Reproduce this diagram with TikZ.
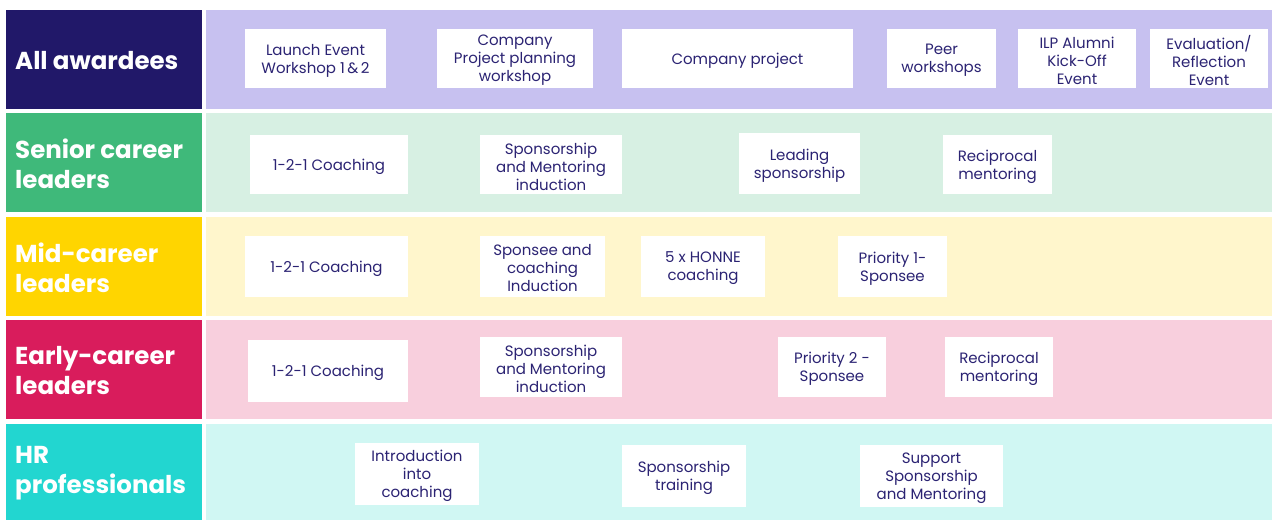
\documentclass[tikz,border=0pt]{standalone}
\usepackage{fontspec}
\setmainfont{Poppins}
\definecolor{navy}{HTML}{211869}
\definecolor{boxtext}{HTML}{2B2373}
\definecolor{lav}{HTML}{C7C1F0}
\definecolor{sgreen}{HTML}{3FB97A}
\definecolor{sgreenbg}{HTML}{D7F0E3}
\definecolor{myel}{HTML}{FFD500}
\definecolor{myelbg}{HTML}{FFF6CC}
\definecolor{ered}{HTML}{D91C5C}
\definecolor{eredbg}{HTML}{F8CFDD}
\definecolor{hrt}{HTML}{22D6D0}
\definecolor{hrtbg}{HTML}{D0F7F3}
\tikzset{
  wbox/.style={fill=white, draw=none, inner sep=0pt},
  wtext/.style={inner sep=0pt, align=center, text=boxtext,
    font=\fontsize{15}{18}\selectfont},
  lbl/.style={anchor=west, inner sep=0pt, align=left, text=white,
    font=\fontsize{24.5}{30}\selectfont\bfseries},
}
\newcommand\wb[6]{\node[wbox, minimum width={(#4-#2)*1pt}, minimum height={(#5-#3)*1pt}]
  (#1) at ({(#2+#4)/2},{(#3+#5)/2}) {};
  \node[wtext] (#1t) at ([yshift=-2pt]#1.center) {#6};}
\newcommand\band[6]{%
  \fill[#4] (6,#2) rectangle (202,#3);
  \fill[#5] (206,#2) rectangle (1272,#3);
  \node[lbl] (#1) at (15,{(#2+#3)/2+1}) {#6};}
\begin{document}
\begin{tikzpicture}[x=1pt,y=-1pt]
\useasboundingbox (0,0) rectangle (1272,520);
\fill[white] (0,0) rectangle (1272,520);
\band{la}{10}{109}{navy}{lav}{All awardees}
\band{lb}{113}{212}{sgreen}{sgreenbg}{Senior career\\leaders}
\band{lc}{217}{316}{myel}{myelbg}{Mid-career\\leaders}
\band{ld}{320}{419}{ered}{eredbg}{Early-career\\leaders}
\band{le}{424}{520}{hrt}{hrtbg}{HR\\professionals}
% row 1
\wb{a1}{245}{29}{386}{88}{Launch Event\\Workshop 1\,\&\,2}
\wb{a2}{437}{29}{593}{88}{Company\\Project planning\\workshop}
\wb{a3}{622}{29}{853}{88}{Company project}
\wb{a4}{887}{29}{996}{88}{Peer\\workshops}
\wb{a5}{1018}{29}{1136}{88}{ILP Alumni\\Kick-Off\\Event}
\wb{a6}{1150}{29}{1268}{88}{Evaluation/\\Reflection\\Event}
% row 2
\wb{b1}{250}{135}{408}{194}{1-2-1 Coaching}
\wb{b2}{480}{135}{622}{194}{Sponsorship\\and Mentoring\\induction}
\wb{b3}{739}{133}{860}{194}{Leading\\sponsorship}
\wb{b4}{943}{135}{1052}{194}{Reciprocal\\mentoring}
% row 3
\wb{c1}{245}{236}{408}{297}{1-2-1 Coaching}
\wb{c2}{480}{236}{605}{297}{Sponsee and\\coaching\\Induction}
\wb{c3}{641}{236}{765}{297}{5 x HONNE\\coaching}
\wb{c4}{838}{236}{947}{297}{Priority 1-\\Sponsee}
% row 4
\wb{d1}{248}{340}{408}{402}{1-2-1 Coaching}
\wb{d2}{480}{337}{622}{397}{Sponsorship\\and Mentoring\\induction}
\wb{d3}{778}{337}{886}{397}{Priority 2 -\\Sponsee}
\wb{d4}{945}{337}{1053}{397}{Reciprocal\\mentoring}
% row 5
\wb{e1}{355}{443}{479}{505}{Introduction\\into\\coaching}
\wb{e2}{622}{445}{746}{507}{Sponsorship\\training}
\wb{e3}{860}{445}{1003}{507}{Support\\Sponsorship\\and Mentoring}
\end{tikzpicture}
\end{document}
